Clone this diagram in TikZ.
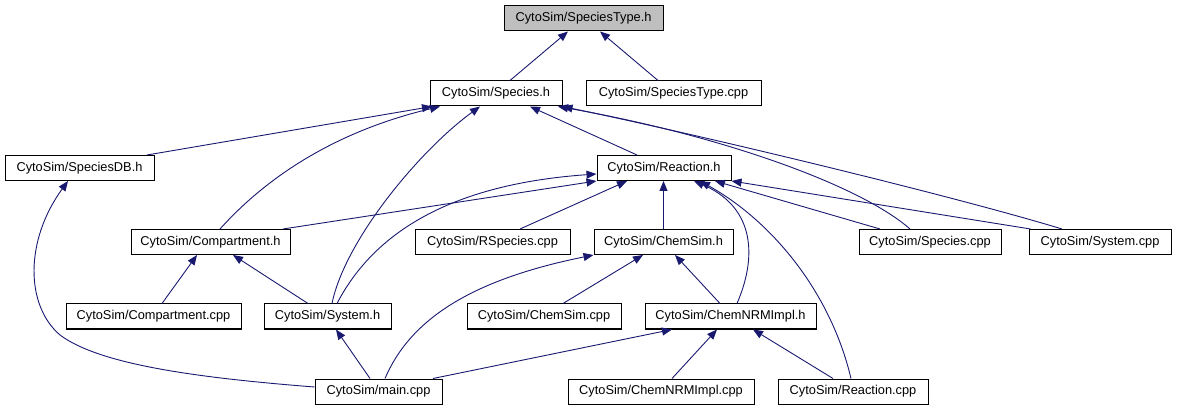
\documentclass[tikz,border=0pt]{standalone}
\usepackage{fontspec}
\setmainfont{Liberation Sans}
\usetikzlibrary{arrows.meta,calc}
\definecolor{edgeblue}{RGB}{25,25,112}
\definecolor{rootgray}{RGB}{191,191,191}
\begin{document}
\begin{tikzpicture}[x=1pt,y=-1pt,
  box/.style={draw=black,line width=1pt,rectangle,minimum height=25pt,inner sep=0pt,font=\fontsize{12.8}{14}\selectfont,fill=white},
  dep/.style={draw=edgeblue,line width=0.9pt,-{Triangle[length=10pt,width=8pt]}},
]
\useasboundingbox (0,0) rectangle (1177,411);
% nodes
\node[box,fill=rootgray,minimum width=159pt] (st) at (583.5,18.5) {CytoSim/SpeciesType.h};
\node[box,minimum width=132pt] (sp) at (496,93.5) {CytoSim/Species.h};
\node[box,minimum width=175pt] (stc) at (673.5,93.5) {CytoSim/SpeciesType.cpp};
\node[box,minimum width=149pt] (sdb) at (79.5,168) {CytoSim/SpeciesDB.h};
\node[box,minimum width=134pt] (rh) at (664,168) {CytoSim/Reaction.h};
\node[box,minimum width=159pt] (ch) at (210.5,242) {CytoSim/Compartment.h};
\node[box,minimum width=155pt] (rsc) at (492.5,242) {CytoSim/RSpecies.cpp};
\node[box,minimum width=139pt] (csh) at (663.5,242) {CytoSim/ChemSim.h};
\node[box,minimum width=142pt] (spc) at (930,242) {CytoSim/Species.cpp};
\node[box,minimum width=142pt] (syc) at (1100,242) {CytoSim/System.cpp};
\node[box,minimum width=175pt] (cc) at (153.5,316.5) {CytoSim/Compartment.cpp};
\node[box,minimum width=127pt] (sh) at (327.5,316.5) {CytoSim/System.h};
\node[box,minimum width=154pt] (csc) at (544,316.5) {CytoSim/ChemSim.cpp};
\node[box,minimum width=171pt] (nh) at (730.5,316.5) {CytoSim/ChemNRMImpl.h};
\node[box,minimum width=127pt] (mc) at (378.5,391.5) {CytoSim/main.cpp};
\node[box,minimum width=186pt] (nc) at (661,391.5) {CytoSim/ChemNRMImpl.cpp};
\node[box,minimum width=150pt] (rc) at (853,391.5) {CytoSim/Reaction.cpp};
% edges into SpeciesType.h
\draw[dep] ($(sp.north)+(14,0)$) -- ($(st.south)+(-15.5,0)$);
\draw[dep] ($(stc.north)+(-15.5,0)$) -- ($(st.south)+(16.5,0)$);
% edges into Species.h
\draw[dep] ($(sdb.north)+(67.5,0)$) -- ($(sp.south)+(-64,0)$);
\draw[dep] ($(ch.north)+(9.5,0)$) .. controls (255,190) and (320,135) .. ($(sp.south)+(-56,0)$);
\draw[dep] ($(sh.north)+(4.5,0)$) .. controls (345,240) and (420,150) .. ($(sp.south)+(-16,0)$);
\draw[dep] ($(rh.north)+(-27,0)$) -- ($(sp.south)+(34,0)$);
\draw[dep] ($(spc.north)+(-20,0)$) .. controls (860,185) and (720,135) .. ($(sp.south)+(62,0)$);
\draw[dep] ($(syc.north)+(-38,0)$) .. controls (950,195) and (700,135) .. (sp.south east);
% edges into Reaction.h
\draw[dep] ($(ch.north)+(72.5,0)$) -- (rh.south west);
\draw[dep] ($(sh.north)+(9.5,0)$) .. controls (370,240) and (440,185) .. ($(rh.west)+(0,6)$);
\draw[dep] ($(rsc.north)+(27.5,0)$) -- ($(rh.south)+(-37,0)$);
\draw[dep] (csh.north) -- (csh.north |- rh.south);
\draw[dep] ($(nh.north)+(6.5,0)$) .. controls (760,250) and (750,205) .. ($(rh.south)+(30,0)$);
\draw[dep] ($(rc.north)+(-2,0)$) .. controls (830,290) and (770,220) .. ($(rh.south)+(36,0)$);
\draw[dep] ($(spc.north)+(-50,0)$) -- ($(rh.south)+(51,0)$);
\draw[dep] ($(syc.north west)+(2,0)$) -- (rh.south east);
% edges into Compartment.h
\draw[dep] ($(cc.north)+(8.5,0)$) -- ($(ch.south)+(-13.5,0)$);
\draw[dep] ($(sh.north)+(-19.5,0)$) -- ($(ch.south)+(22.5,0)$);
% edge into SpeciesDB.h
\draw[dep] ($(mc.west)+(0,-4.5)$) .. controls (200,378) and (100,365) .. (60,335) .. controls (25,305) and (25,240) .. ($(sdb.south)+(-11.5,0)$);
% edges into ChemSim.h
\draw[dep] ($(mc.north)+(6.5,0)$) .. controls (410,320) and (470,280) .. (csh.south west);
\draw[dep] ($(csc.north)+(19,0)$) -- ($(csh.south)+(-20.5,0)$);
\draw[dep] ($(nh.north)+(-10.5,0)$) -- ($(csh.south)+(11.5,0)$);
% edge into System.h
\draw[dep] ($(mc.north)+(-8.5,0)$) -- ($(sh.south)+(8.5,0)$);
% edges into ChemNRMImpl.h
\draw[dep] ($(mc.north)+(54.5,0)$) -- ($(nh.south)+(-58.5,0)$);
\draw[dep] ($(nc.north)+(11,0)$) -- ($(nh.south)+(-13.5,0)$);
\draw[dep] ($(rc.north)+(-20,0)$) -- ($(nh.south)+(22.5,0)$);
\end{tikzpicture}
\end{document}
